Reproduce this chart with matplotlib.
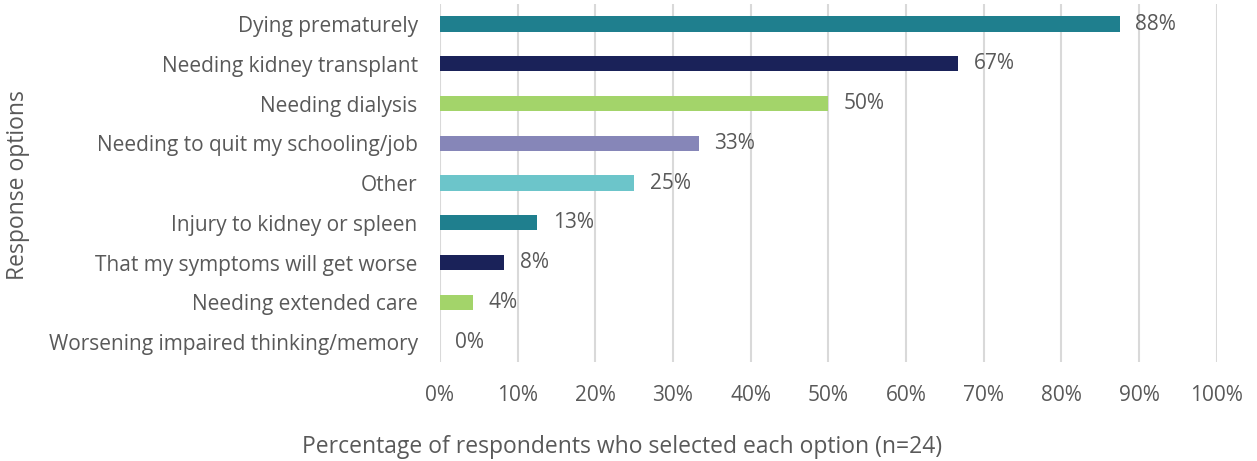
import numpy as np
import matplotlib
matplotlib.use("Agg")
from matplotlib import pyplot as plt

plt.rcParams['font.family'] = ['Open Sans', 'DejaVu Sans']

categories = [
    "Dying prematurely",
    "Needing kidney transplant",
    "Needing dialysis",
    "Needing to quit my schooling/job",
    "Other",
    "Injury to kidney or spleen",
    "That my symptoms will get worse",
    "Needing extended care",
    "Worsening impaired thinking/memory",
]
values = [87.5, 66.7, 50.0, 33.3, 25.0, 12.5, 8.3, 4.2, 0.0]
labels = ["88%", "67%", "50%", "33%", "25%", "13%", "8%", "4%", "0%"]
colors = ["#1F7F8E", "#1A2259", "#A3D46A", "#8686B8", "#6CC5CA",
          "#1F7F8E", "#1A2259", "#A3D46A", "#8686B8"]
ticks = [0, 10, 20, 30, 40, 50, 60, 70, 80, 90, 100]

txt = "#595959"

fig = plt.figure(figsize=(12.57, 4.61), dpi=100)
ax = fig.add_axes([0.350, 0.215, 0.618, 0.776])

y = np.arange(len(categories))
ax.barh(y, values, height=0.38, color=colors, zorder=3)
for yi, v, lab in zip(y, values, labels):
    ax.text(v + 2.0, yi, lab, va="center", ha="left", fontsize=15, color=txt)

ax.set_xlim(0, 100)
ax.set_ylim(len(categories) - 0.5, -0.5)
ax.set_yticks(y)
ax.set_yticklabels(categories, fontsize=15, color=txt)
ax.set_xticks(ticks)
ax.set_xticklabels([f"{t}%" for t in ticks], fontsize=15, color=txt)
ax.tick_params(axis="both", length=0)
ax.tick_params(axis="x", pad=17)
ax.tick_params(axis="y", pad=16)
ax.grid(axis="x", color="#D9D9D9", linewidth=1.5, zorder=0)
for s in ax.spines.values():
    s.set_visible(False)

fig.text(622 / 1257, 1 - 447 / 461,
         "Percentage of respondents who selected each option (n=24)",
         fontsize=16.5, color=txt, ha="center", va="center")
fig.text(18 / 1257, 1 - 185 / 461, "Response options", rotation=90,
         fontsize=16.5, color=txt, ha="center", va="center")

fig.savefig("out.png", dpi=100)
